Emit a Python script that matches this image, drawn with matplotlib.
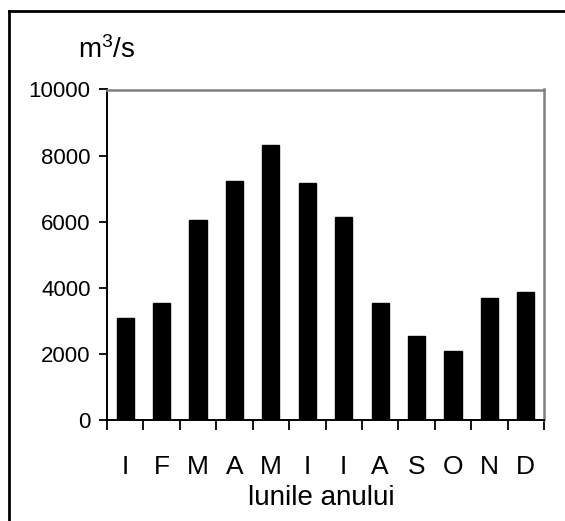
import matplotlib
matplotlib.use('Agg')
import matplotlib.pyplot as plt
from matplotlib.lines import Line2D

plt.rcParams['font.family'] = ['Liberation Sans', 'DejaVu Sans']
plt.rcParams['mathtext.default'] = 'regular'

# --- data ---
months = ['I', 'F', 'M', 'A', 'M', 'I', 'I', 'A', 'S', 'O', 'N', 'D']
flow = [3090, 3550, 6060, 7240, 8320, 7180, 6150, 3550, 2545, 2090, 3700, 3880]
yticks = [0, 2000, 4000, 6000, 8000, 10000]

W, H = 565, 521
fig = plt.figure(figsize=(W / 100, H / 100), dpi=100)
ax = fig.add_axes([107 / W, (H - 420) / H, 437 / W, 330.5 / H])

x = list(range(len(months)))
ax.bar(x, flow, width=0.47, color='black', edgecolor='black')

ax.set_xlim(-0.5, len(months) - 0.5)
ax.set_ylim(0, 10000)
ax.set_yticks(yticks)
ax.set_yticklabels([str(v) for v in yticks], fontsize=16)

# month labels centred under bars, ticks at category boundaries
ax.set_xticks(x)
ax.set_xticklabels(months, fontsize=19)
ax.tick_params(axis='x', which='major', length=0, pad=25)
ax.set_xticks([i - 0.5 for i in range(len(months) + 1)], minor=True)
ax.tick_params(axis='x', which='minor', length=7.2, width=1.3, direction='out')
ax.tick_params(axis='y', length=5.8, width=1.3, direction='out', pad=6)

for s in ['left', 'bottom']:
    ax.spines[s].set_color('black')
    ax.spines[s].set_linewidth(1.4)
for s in ['top', 'right']:
    ax.spines[s].set_color('#808080')
    ax.spines[s].set_linewidth(1.8)

fig.text(321 / W, 1 - 498 / H, 'lunile anului', fontsize=20, ha='center', va='center')
fig.text(107 / W, 1 - 50 / H, 'm$^{3}$/s', fontsize=20, ha='center', va='center')

# outer frame (only top and left edges visible)
fig.add_artist(Line2D([9 / W, 1], [1 - 11 / H, 1 - 11 / H], color='black', lw=2,
                      transform=fig.transFigure))
fig.add_artist(Line2D([9 / W, 9 / W], [0, 1 - 11 / H], color='black', lw=2,
                      transform=fig.transFigure))

fig.savefig('out.png', dpi=100)
